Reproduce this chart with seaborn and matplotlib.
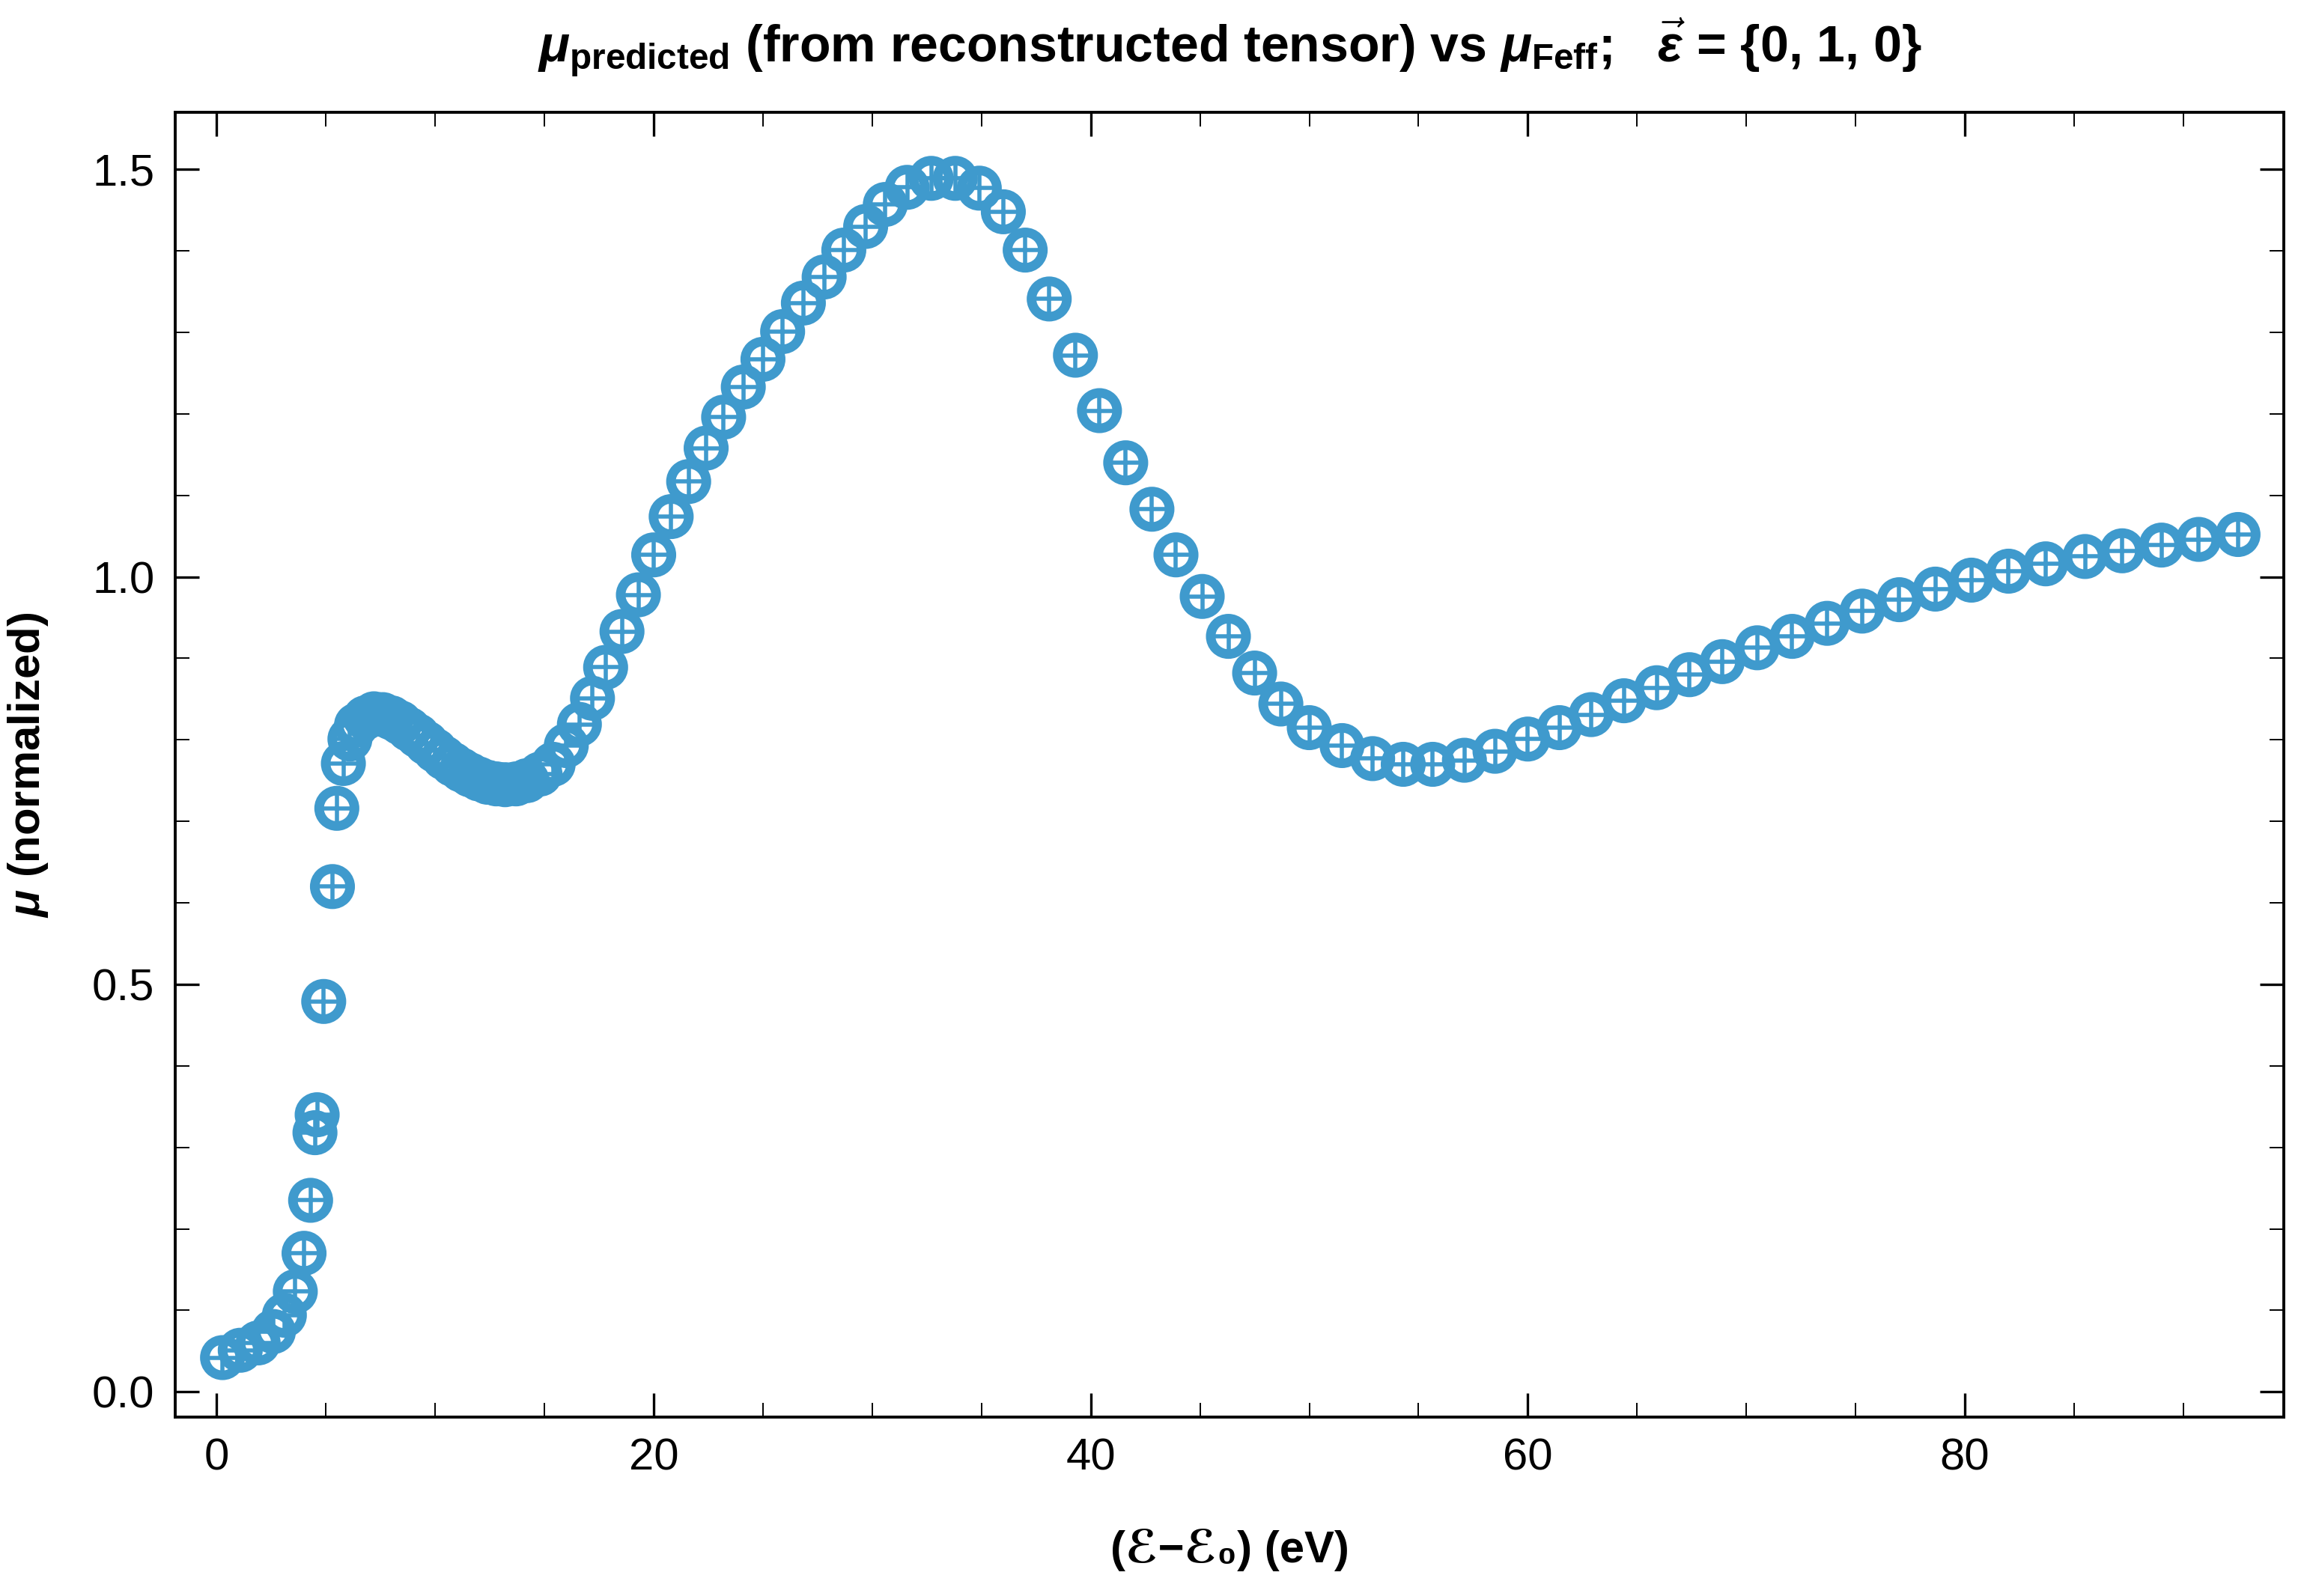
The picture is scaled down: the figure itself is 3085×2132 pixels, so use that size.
import pandas as pd
import seaborn as sns
import matplotlib.pyplot as plt
from matplotlib.ticker import MultipleLocator

# energy grid (eV above edge) and normalized absorption
energy = [0.27, 1.08, 1.9, 2.6, 3.1, 3.6, 4.0, 4.3, 4.5, 4.6, 4.9, 5.3, 5.5, 5.8,
          6.1, 6.4, 6.8, 7.2, 7.6, 8.0, 8.4, 8.8, 9.2, 9.6, 10.0, 10.4, 10.8,
          11.2, 11.6, 12.0, 12.4, 12.8, 13.2, 13.7, 14.2, 14.8, 15.4, 16.0,
          16.6, 17.2, 17.8, 18.55, 19.3, 20.0, 20.8, 21.6, 22.4, 23.2, 24.1,
          25.0, 25.9, 26.85, 27.8, 28.7, 29.7, 30.6, 31.6, 32.7, 33.8, 34.9,
          36.0, 37.0, 38.1, 39.3, 40.4, 41.6, 42.8, 43.9, 45.1, 46.3, 47.5,
          48.7, 50.0, 51.5, 52.9, 54.3, 55.65, 57.1, 58.5, 60.0, 61.45, 62.9,
          64.4, 65.9, 67.4, 68.9, 70.5, 72.1, 73.7, 75.3, 77.0, 78.65, 80.3,
          82.0, 83.7, 85.5, 87.2, 89.0, 90.7, 92.5]

mu_feff = [0.042, 0.051, 0.060, 0.074, 0.094, 0.123, 0.170, 0.235, 0.318, 0.340,
           0.479, 0.620, 0.716, 0.771, 0.801, 0.818, 0.827, 0.832, 0.831, 0.827,
           0.821, 0.813, 0.805, 0.796, 0.787, 0.778, 0.770, 0.763, 0.757, 0.752,
           0.748, 0.746, 0.745, 0.746, 0.750, 0.758, 0.770, 0.793, 0.819, 0.851,
           0.889, 0.933, 0.978, 1.027, 1.074, 1.117, 1.158, 1.196, 1.233, 1.267,
           1.301, 1.336, 1.368, 1.401, 1.430, 1.457, 1.478, 1.489, 1.489, 1.477,
           1.448, 1.401, 1.341, 1.272, 1.204, 1.140, 1.083, 1.027, 0.976, 0.927,
           0.882, 0.844, 0.815, 0.793, 0.777, 0.770, 0.770, 0.775, 0.786, 0.801,
           0.815, 0.831, 0.848, 0.864, 0.880, 0.896, 0.913, 0.927, 0.943, 0.958,
           0.972, 0.985, 0.996, 1.007, 1.016, 1.025, 1.032, 1.039, 1.046, 1.052]

# prediction lies on top of the Feff curve at this resolution
mu_pred = list(mu_feff)

blue = '#3F9ACD'

sns.set_theme(style='ticks')
plt.rcParams['font.family'] = ['Liberation Sans', 'DejaVu Sans']
plt.rcParams['text.color'] = 'black'
plt.rcParams['axes.labelcolor'] = 'black'
plt.rcParams['mathtext.fontset'] = 'custom'
plt.rcParams['mathtext.rm'] = 'Liberation Sans:bold'
plt.rcParams['mathtext.it'] = 'Liberation Sans:italic:bold'
plt.rcParams['mathtext.bf'] = 'Liberation Sans:bold'

df = pd.DataFrame({'energy': energy, 'mu_feff': mu_feff, 'mu_pred': mu_pred})

fig = plt.figure(figsize=(15.425, 10.66), dpi=200)
ax = fig.add_axes([0.0759, 0.1121, 0.9128, 0.8175])

sns.scatterplot(data=df, x='energy', y='mu_feff', marker='o', s=290,
                color=blue, facecolor='none', edgecolor=blue, linewidth=4.6,
                ax=ax, zorder=3)
sns.scatterplot(data=df, x='energy', y='mu_pred', marker='+', s=160,
                color=blue, linewidth=2.0, ax=ax, zorder=4)

ax.set_xlim(-1.89, 94.6)
ax.set_ylim(-0.031, 1.570)
ax.xaxis.set_major_locator(MultipleLocator(20))
ax.xaxis.set_minor_locator(MultipleLocator(5))
ax.yaxis.set_major_locator(MultipleLocator(0.5))
ax.yaxis.set_minor_locator(MultipleLocator(0.1))
ax.tick_params(which='both', direction='in', top=True, right=True,
               colors='black', labelcolor='black')
ax.tick_params(which='major', length=11.6, width=1.2, labelsize=21.5, pad=10)
ax.tick_params(which='minor', length=7, width=0.7)
for sp in ax.spines.values():
    sp.set_linewidth(1.4)
    sp.set_color('black')

ax.set_xlabel('(ℰ−ℰ₀) (eV)', fontsize=21.5, fontweight='bold', labelpad=24)
ax.set_ylabel(r'$\mu$ (normalized)', fontsize=21.5, fontweight='bold', labelpad=20)
ax.set_title(r'$\mu_{\mathrm{predicted}}$ (from reconstructed tensor) vs '
             r'$\mu_{\mathrm{Feff}}$;   $\vec{\epsilon}$ = {0, 1, 0}',
             fontsize=24.5, fontweight='bold', pad=24)

fig.savefig('out.png', dpi=200)
